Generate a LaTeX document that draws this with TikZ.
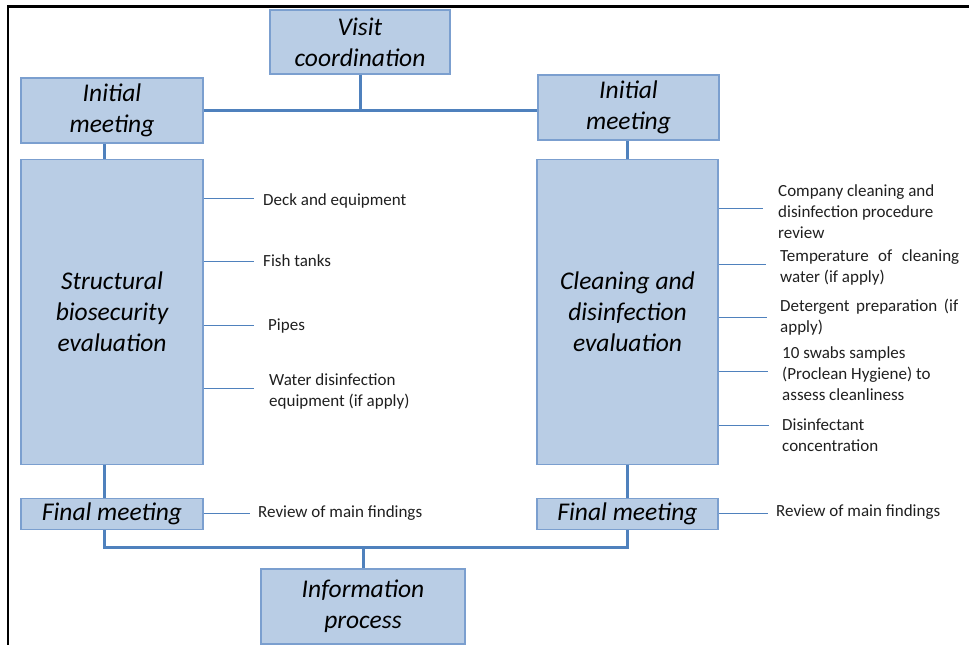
\documentclass[tikz,border=0pt]{standalone}
\usepackage{fontspec}
\setmainfont{Carlito}
\usepackage{tikz}
\usetikzlibrary{positioning}
\definecolor{boxfill}{HTML}{B9CDE5}
\definecolor{boxline}{HTML}{7B9FCF}
\definecolor{linkblue}{HTML}{4F81BD}
\tikzset{
  stage/.style={rectangle, draw=boxline, line width=1.2pt, fill=boxfill, align=center,
                inner sep=0pt, font=\fontsize{25.5}{31}\selectfont\itshape},
  link/.style={line width=3pt, draw=linkblue},
  tick/.style={line width=1pt, draw=linkblue},
  lab/.style={align=left, inner sep=0pt, anchor=base west, text=black!88,
              font=\fontsize{17}{21}\selectfont},
}

\begin{document}
\begin{tikzpicture}[x=1pt, y=-1pt]
        \useasboundingbox (0,0) rectangle (969,645);
        % frame
        \draw[line width=2.2pt] (8,645) -- (8,6.5) -- (969,6.5);
        % stages
        \node[stage, minimum width=180pt, minimum height=64pt] (visit) at (360,42) {Visit\\coordination};
        \node[stage, minimum width=182pt, minimum height=65pt] (initL) at (112,110.5) {Initial\\meeting};
        \node[stage, minimum width=181pt, minimum height=65pt] (initR) at (628.5,107.5) {Initial\\meeting};
        \node[stage, minimum width=182pt, minimum height=305pt, below=15pt of initL] (sbe) {Structural\\biosecurity\\evaluation};
        \node[stage, minimum width=181pt, minimum height=305pt, below=18pt of initR, xshift=-1pt] (cde) {Cleaning and\\disinfection\\evaluation};
        \node[stage, minimum width=182pt, minimum height=31pt, below=33pt of sbe] (finL) {Final meeting};
        \node[stage, minimum width=181pt, minimum height=31pt, below=33pt of cde] (finR) {Final meeting};
        \node[stage, minimum width=204pt, minimum height=75pt] (info) at (363,606.5) {Information\\process};
        % main connectors
        \coordinate (bus) at (0,547);
        \draw[link] (visit.south) -- (visit.south |- initL.east);
        \draw[link] (initL.east) -- (initR.west |- initL.east);
        \draw[link] ([xshift=-8pt]initL.south) -- ([xshift=-8pt]sbe.north);
        \draw[link] ([xshift=-8pt]sbe.south) -- ([xshift=-8pt]finL.north);
        \draw[link] (initR.south -| cde.north) -- (cde.north);
        \draw[link] (cde.south) -- (finR.north);
        \draw[link] ([xshift=-8pt]finL.south) |- (bus -| finR.south) -- (finR.south);
        \draw[link] (info.north) -- (info.north |- bus);
        % structural items (base = last line)
        \node[lab] (dk) at (263,205.5) {Deck and equipment};
        \node[lab] (ft) at (263,266.5) {Fish tanks};
        \node[lab] (pp) at (268,330) {Pipes};
        \node[lab] (wd) at (269,406) {Water disinfection\\equipment (if apply)};
        \coordinate (tL1) at (254,198);
        \coordinate (tL2) at (254,261);
        \coordinate (tL3) at (254,325);
        \coordinate (tL4) at (254,388);
        \draw[tick] (sbe.east |- tL1) -- (tL1);
        \draw[tick] (sbe.east |- tL2) -- (tL2);
        \draw[tick] (sbe.east |- tL3) -- (tL3);
        \draw[tick] (sbe.east |- tL4) -- (tL4);
        % cleaning items
        \node[lab] (cc) at (778,238) {Company cleaning and\\disinfection procedure\\review};
        \node[lab] (tw) at (780,282) {\makebox[179pt][s]{Temperature of cleaning}\\water (if apply)};
        \node[lab] (dp) at (780,332) {\makebox[178pt][s]{Detergent preparation (if}\\apply)};
        \node[lab] (sw) at (782,400) {10 swabs samples\\(Proclean Hygiene) to\\assess cleanliness};
        \node[lab] (dc) at (782,451) {Disinfectant\\concentration};
        \coordinate (tR1) at (763,208);
        \coordinate (tR2) at (766,264);
        \coordinate (tR3) at (767,317);
        \coordinate (tR4) at (768,371);
        \coordinate (tR5) at (769,425);
        \draw[tick] (cde.east |- tR1) -- (tR1);
        \draw[tick] (cde.east |- tR2) -- (tR2);
        \draw[tick] (cde.east |- tR3) -- (tR3);
        \draw[tick] (cde.east |- tR4) -- (tR4);
        \draw[tick] (cde.east |- tR5) -- (tR5);
        % final meeting items
        \node[lab] (rfL) at (258,517) {Review of main findings};
        \node[lab] (rfR) at (776,516) {Review of main findings};
        \draw[tick] (finL.east) -- ([xshift=-8pt]rfL.west |- finL.east);
        \draw[tick] (finR.east) -- ([xshift=-8pt]rfR.west |- finR.east);
      \end{tikzpicture}
\end{document}
